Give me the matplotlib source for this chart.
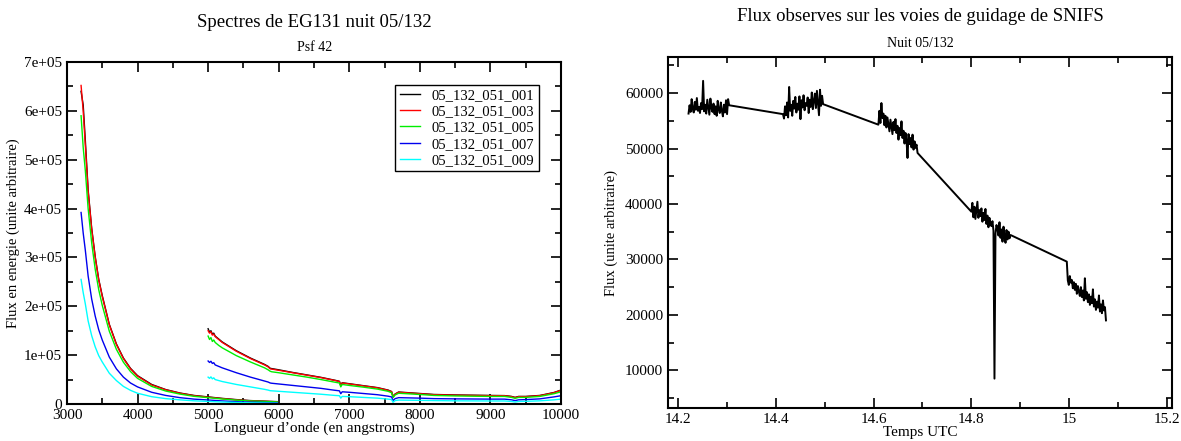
import numpy as np
import matplotlib.pyplot as plt
from matplotlib.ticker import MultipleLocator, FuncFormatter

plt.rcParams['font.family'] = ['Liberation Serif', 'DejaVu Serif']

# --- Spectres (gauche) ---
noms = ['05_132_051_001', '05_132_051_003', '05_132_051_005', '05_132_051_007', '05_132_051_009']
couleurs = ['black', 'red', '#00ee00', '#0000ee', 'cyan']

# voie bleue
wl_b = [3200, 3230, 3260, 3300, 3350, 3400, 3450, 3500, 3600, 3700, 3800, 3900, 4000,
        4200, 4400, 4600, 4800, 5000, 5200, 5400, 5600, 5800, 5980]
fb_001 = [640000, 612000, 540000, 438000, 360000, 302000, 255000, 222000, 163000, 123000, 94000, 73000, 58000,
          40000, 29500, 22500, 17500, 14500, 11500, 9000, 7000, 5800, 4800]
fb_003 = [652000, 600000, 530000, 435000, 358000, 300000, 254000, 220000, 162000, 122000, 93000, 72000, 57000,
          39000, 29000, 22000, 17000, 14000, 11000, 8500, 6500, 5500, 4500]
fb_005 = [590000, 525000, 478000, 400000, 330000, 276000, 234000, 202000, 149000, 112000, 85500, 66500, 52500,
          36000, 26500, 20300, 15700, 13000, 10200, 7900, 6100, 5100, 4200]
fb_007 = [392000, 350000, 315000, 262000, 215000, 180000, 152000, 131000, 96000, 72000, 55000, 43000, 35000,
          24000, 17500, 13000, 10000, 8200, 6300, 4800, 3700, 3000, 2400]
fb_009 = [255000, 228000, 205000, 170000, 140000, 117000, 99000, 86000, 63000, 48000, 36000, 28000, 22000,
          15000, 11000, 8500, 6500, 5300, 4100, 3200, 2500, 2000, 1700]

# voie rouge
wl_r = [5000, 5020, 5040, 5060, 5080, 5100, 5150, 5200, 5300, 5400, 5600, 5800, 5850, 5880, 5900, 6000,
        6200, 6400, 6600, 6800, 6860, 6880, 6900, 7000, 7200, 7400, 7550, 7600, 7620, 7650, 7700,
        8000, 8200, 8500, 9000, 9200, 9300, 9350, 9400, 9500, 9700, 9900, 10000]
fr_001 = [154000, 147000, 150000, 143000, 145000, 139000, 133000, 127000, 118000, 109000, 94000, 81000, 77000, 73000, 72500, 70000,
          64500, 59500, 54500, 48500, 46500, 38500, 43500, 41500, 37500, 33500, 28500, 25500, 15500, 20500, 24500,
          21500, 19500, 18500, 17500, 17200, 15500, 13500, 15500, 15500, 17500, 23500, 28500]
fr_003 = [150000, 145000, 148000, 141000, 143000, 138000, 132000, 126000, 117000, 108000, 93000, 80000, 76000, 72000, 71500, 69000,
          64000, 59000, 54000, 48000, 46000, 38000, 43000, 41000, 37000, 33000, 28000, 25000, 15000, 20000, 24000,
          21000, 19000, 18000, 17000, 17000, 15000, 13000, 15000, 15000, 17000, 23000, 28000]
fr_005 = [139000, 132000, 136000, 128000, 131000, 126000, 120000, 115000, 107000, 99000, 86000, 74000, 70000, 67000, 66000, 64000,
          59500, 55000, 50000, 44500, 43000, 35000, 40000, 38000, 34500, 30500, 26000, 23000, 13000, 18500, 22000,
          19500, 17500, 16500, 15500, 15500, 13500, 11500, 13500, 13500, 15500, 21000, 25000]
fr_007 = [88000, 85000, 87500, 83000, 84500, 80000, 77000, 74000, 69000, 64000, 55000, 47000, 45000, 43000, 42500, 41000,
          38000, 35000, 32000, 28000, 27000, 21000, 25000, 24000, 21500, 19000, 16000, 14500, 7000, 11000, 13000,
          12000, 11000, 10500, 10000, 10000, 8500, 7000, 8500, 9000, 10500, 14500, 17000]
fr_009 = [55000, 52500, 55500, 51500, 53500, 50000, 48000, 46000, 43000, 40000, 35000, 30000, 28500, 27200, 27000, 26000,
          24000, 22000, 20000, 17500, 17000, 12000, 15500, 15000, 13500, 12000, 10000, 9000, 3500, 7000, 8000,
          7500, 7000, 6500, 6200, 6200, 5200, 4000, 5200, 5500, 6500, 8500, 10000]

bleus = [fb_001, fb_003, fb_005, fb_007, fb_009]
rouges = [fr_001, fr_003, fr_005, fr_007, fr_009]

# --- Voies de guidage (droite) ---
t_debut = [14.222, 14.415, 14.610, 14.800, 14.995]
t_fin = [14.305, 14.497, 14.690, 14.880, 15.075]
seg1 = [56300, 57800, 56600, 58900, 57200, 56500, 58400, 57000, 59100, 56800, 57500, 56400, 58200, 57100, 62200,
        56700, 57900, 56300, 58800, 57400, 56100, 59000, 57300, 56600, 58100, 56200, 57600, 55900, 58600, 57000,
        56400, 58300, 56800, 55800, 57900, 56500, 58700, 56200, 58900, 57800]
seg2 = [56200, 55400, 57600, 56000, 58300, 55600, 61100, 56800, 57900, 55900, 58600, 57200, 59300, 56500, 58100,
        57000, 59400, 55300, 58700, 57400, 59600, 56900, 58200, 57700, 59200, 56400, 58800, 57500, 60100, 57100,
        58600, 59900, 57300, 60400, 58200, 56000, 60600, 57700, 59500, 58000]
seg3 = [54300, 56800, 54600, 58200, 55500, 56300, 54200, 55900, 53800, 55600, 54400, 53100, 55200, 53900, 52600,
        54800, 53300, 55300, 52800, 54100, 51600, 53700, 52400, 54900, 51900, 53200, 50900, 52800, 51500, 48300,
        52600, 50800, 51900, 50200, 52500, 49800, 51300, 50100, 50700, 49200]
seg4 = [38600, 40200, 37600, 39500, 37300, 38800, 40400, 37500, 38900, 37800, 39200, 36800, 38400, 37100, 39100,
        36400, 37900, 35800, 37500, 36300, 36000, 36900, 35200, 8500, 34600, 36200, 35500, 34300, 36700, 33900,
        35400, 33200, 35900, 34100, 33000, 35300, 33600, 35000, 33800, 34400]
seg5 = [29600, 26200, 25400, 27000, 25800, 26300, 24800, 25900, 24500, 25600, 23800, 25200, 24200, 23400, 25000,
        23200, 24400, 22600, 26600, 22900, 24100, 22300, 23700, 21800, 23300, 22100, 24600, 21500, 22800, 20900,
        22400, 21300, 23500, 20600, 21900, 20300, 22600, 20800, 21400, 19000]
segments = [seg1, seg2, seg3, seg4, seg5]


def style_axes(ax):
    for s in ax.spines.values():
        s.set_linewidth(1.5)
    ax.tick_params(which='both', direction='in', top=True, right=True, labelsize=11, width=1.2)
    ax.tick_params(which='major', length=7)
    ax.tick_params(which='minor', length=4)


fig = plt.figure(figsize=(11.81, 4.41), dpi=100)

# gauche
ax1 = fig.add_axes([0.0567, 0.0839, 0.4183, 0.7755])
for nom, c, fb, fr in zip(noms, couleurs, bleus, rouges):
    ax1.plot(wl_b, fb, color=c, lw=1.0, label=nom)
    ax1.plot(wl_r, fr, color=c, lw=1.0)
ax1.set_xlim(3000, 10000)
ax1.set_ylim(0, 700000)
ax1.xaxis.set_major_locator(MultipleLocator(1000))
ax1.xaxis.set_minor_locator(MultipleLocator(500))
ax1.yaxis.set_major_locator(MultipleLocator(100000))
ax1.yaxis.set_minor_locator(MultipleLocator(50000))
ax1.yaxis.set_major_formatter(FuncFormatter(lambda v, p: '0' if v == 0 else f'{v:.0e}'))
style_axes(ax1)
ax1.set_xlabel('Longueur d\u2019onde (en angstroms)', fontsize=11, labelpad=0)
ax1.set_ylabel('Flux en energie (unite arbitraire)', fontsize=10.5, labelpad=3)
leg = ax1.legend(loc='upper right', bbox_to_anchor=(0.97, 0.955), fontsize=10.5, fancybox=False,
                 handlelength=1.4, borderpad=0.3, labelspacing=0.2, handletextpad=0.8, framealpha=1)
leg.get_frame().set_edgecolor('black')
leg.get_frame().set_linewidth(1.0)
fig.text(0.266, 0.950, 'Spectres de EG131 nuit 05/132', ha='center', va='center', fontsize=13.5)
fig.text(0.266, 0.893, 'Psf 42', ha='center', va='center', fontsize=10)

# droite
ax2 = fig.add_axes([0.5656, 0.0748, 0.4268, 0.7959])
t_all, f_all = [], []
for a, b, seg in zip(t_debut, t_fin, segments):
    t_all.extend(np.linspace(a, b, len(seg)))
    f_all.extend(seg)
ax2.plot(t_all, f_all, color='black', lw=1.4)
ax2.set_xlim(14.18, 15.21)
ax2.set_ylim(3200, 66500)
ax2.xaxis.set_major_locator(MultipleLocator(0.2))
ax2.xaxis.set_minor_locator(MultipleLocator(0.1))
ax2.yaxis.set_major_locator(MultipleLocator(10000))
ax2.yaxis.set_minor_locator(MultipleLocator(5000))
ax2.xaxis.set_major_formatter(FuncFormatter(lambda v, p: f'{v:g}'))
style_axes(ax2)
ax2.set_xlabel('Temps UTC', fontsize=11, labelpad=0)
ax2.set_ylabel('Flux (unite arbitraire)', fontsize=10.5, labelpad=5)
fig.text(0.779, 0.962, 'Flux observes sur les voies de guidage de SNIFS', ha='center', va='center', fontsize=13.5)
fig.text(0.779, 0.902, 'Nuit 05/132', ha='center', va='center', fontsize=10)

fig.savefig('out.png', dpi=100)
